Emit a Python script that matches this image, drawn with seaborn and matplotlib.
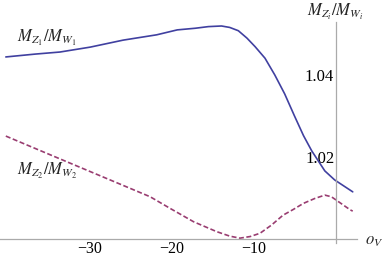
import matplotlib
matplotlib.use("Agg")
import matplotlib.pyplot as plt
import seaborn as sns

ov_1 = [-40.2, -36.6, -33.6, -29.9, -25.9, -21.8, -19.3, -17.1, -15.5, -13.9, -12.9,
        -11.85, -10.8, -9.8, -8.6, -7.4, -6.2, -5.0, -3.9, -2.9, -1.3, -0.1, 2.1]
ratio_1 = [1.0444, 1.0451, 1.0456, 1.0468, 1.0485, 1.0498, 1.0510, 1.0514, 1.0518, 1.05195, 1.0516,
           1.0508, 1.0490, 1.0469, 1.0441, 1.0400, 1.0354, 1.0300, 1.0252, 1.0215, 1.0166, 1.0144, 1.0115]

ov_2 = [-40.2, -35.1, -30.1, -22.6, -20.2, -17.3, -14.5, -12.9, -11.65, -10.4, -9.2,
        -7.8, -6.4, -5.15, -3.9, -2.5, -1.3, -0.5, 1.8, 2.1]
ratio_2 = [1.0251, 1.0208, 1.0166, 1.0103, 1.0075, 1.0042, 1.0018, 1.0007, 1.0002, 1.0006, 1.0014,
           1.0034, 1.0058, 1.0072, 1.0087, 1.0099, 1.0107, 1.0103, 1.0071, 1.0068]

y_ticks = [1.02, 1.04]
x_ticks = [-30, -20, -10]

sns.set_style("white")
plt.rcParams['font.family'] = ['Liberation Serif', 'DejaVu Serif']
plt.rcParams['mathtext.fontset'] = 'stix'

fig = plt.figure(figsize=(3.82, 2.56), dpi=100)
ax = fig.add_axes([0, 0, 1, 1])
ax.patch.set_alpha(0)

sns.lineplot(x=ov_1, y=ratio_1, ax=ax, color='#4040a0', lw=1.2, sort=False, estimator=None)
sns.lineplot(x=ov_2, y=ratio_2, ax=ax, color='#993d71', lw=1.2, sort=False, estimator=None,
             linestyle=(0, (3, 1.5)))

ax.set_xlim(-40.91, 5.67)
ax.set_ylim(0.99585, 1.05829)

ax.spines['top'].set_visible(False)
ax.spines['right'].set_visible(False)
ax.spines['left'].set_position(('data', 0))
ax.spines['bottom'].set_position(('data', 1.0))
ax.spines['left'].set_bounds(0.9990, 1.0529)
ax.spines['bottom'].set_bounds(-40.91, 2.6)
for s in ['left', 'bottom']:
    ax.spines[s].set_color('#aaaaaa')
    ax.spines[s].set_linewidth(0.9)

ax.set_xticks(x_ticks)
ax.set_yticks(y_ticks)
ax.set_xticklabels([f'\u2212{abs(t)}' for t in x_ticks])
ax.set_yticklabels([f'{t:.2f}' for t in y_ticks])
ax.tick_params(axis='both', direction='in', length=3.5, width=0.8, color='#aaaaaa',
               labelsize=12, labelcolor='black')
ax.tick_params(axis='x', pad=1.5, labelsize=11.5)
ax.tick_params(axis='y', pad=1)

ax.text(-38.8, 1.0490, r'$M_{Z_1}/M_{W_1}$', fontsize=12, va='center', ha='left')
ax.text(-38.8, 1.0166, r'$M_{Z_2}/M_{W_2}$', fontsize=12, va='center', ha='left')
ax.text(0, 1.0554, r'$M_{Z_i}/M_{W_i}$', fontsize=12, va='center', ha='center')
ax.text(3.6, 0.9995, r'$o_V$', fontsize=12, va='center', ha='left')

plt.savefig('out.png', dpi=100)
plt.close()
